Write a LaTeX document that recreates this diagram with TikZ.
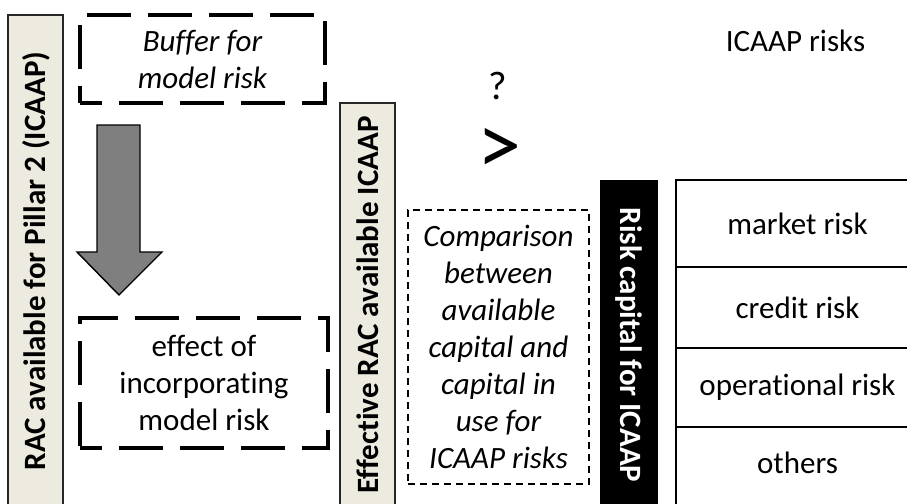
\documentclass[tikz,border=0pt]{standalone}
\usepackage{fontspec}
\setmainfont{Carlito}[Ligatures=NoCommon]
\begin{document}
\begin{tikzpicture}[x=1pt,y=-1pt,
  every node/.style={inner sep=0pt, outer sep=0pt, align=center, font=\fontsize{31}{37}\selectfont},
  beigebar/.style={draw=black!85, line width=1.3pt, fill=barfill, anchor=north west},
  thickdash/.style={draw=black, line width=4.6pt, dash pattern=on 44pt off 17pt, dash phase=22pt},
  thindash/.style={draw=black, line width=1.4pt, dash pattern=on 7pt off 5pt},
  cell/.style={draw=black, line width=1.8pt, anchor=north west, minimum width=243pt},
  vtext/.style={font=\fontsize{31}{37}\selectfont\bfseries}
]
\definecolor{barfill}{HTML}{EDEAE0}
\definecolor{arrowgray}{HTML}{7F7F7F}
\useasboundingbox (0,0) rectangle (907,503);
\clip (0,0) rectangle (907,503);
% left bar
\node[beigebar, minimum width=55pt, minimum height=510pt] (lbar) at (8,15) {};
\node[vtext, rotate=90] (ltext) at (36,261) {RAC available for Pillar 2 (ICAAP)};
% buffer box
\node[thickdash, minimum width=245pt, minimum height=88pt] (buffer) at (202.5,59) {\itshape Buffer for\\\itshape model risk};
% block arrow
\filldraw[fill=arrowgray, draw=black, line width=1.4pt, line join=miter]
  (97,125) -- (140,125) -- (140,252) -- (162,252) -- (119,295) -- (77,252) -- (97,252) -- cycle;
% effect box
\node[thickdash, minimum width=248pt, minimum height=130pt] (effect) at (204,383) {effect of\\incorporating\\model risk};
% middle bar
\node[beigebar, minimum width=55pt, minimum height=420pt] (mbar) at (340,103) {};
\node[vtext, rotate=90] (mtext) at (368,305) {Effective RAC available ICAAP};
% question and comparison sign
\node[font=\fontsize{40}{44}\selectfont] (q) at (498,86) {?};
\node[font=\fontsize{88}{90}\selectfont] (gt) at (499,151) {>};
% comparison box
\node[thindash, minimum width=181pt, minimum height=274pt] (comp) at (498.5,347) {\itshape Comparison\\\itshape between\\\itshape available\\\itshape capital and\\\itshape capital in\\\itshape use for\\\itshape ICAAP risks};
% black bar
\node[fill=black, draw=black, anchor=north west, minimum width=57pt, minimum height=340pt] (bbar) at (600,180) {};
\node[vtext, rotate=-90, text=white] (btext) at (628.5,345) {Risk capital for ICAAP};
% table
\node (title) at (795.5,41) {ICAAP risks};
\node[cell, minimum height=87pt] (market) at (676,180) {market risk};
\node[cell, minimum height=81pt] (credit) at (676,267) {credit risk};
\node[cell, minimum height=79pt] (oper) at (676,348) {operational risk};
\node[cell, minimum height=90pt] (others) at (676,427) {};
\node (otherstext) at (797.5,463) {others};
\end{tikzpicture}
\end{document}
